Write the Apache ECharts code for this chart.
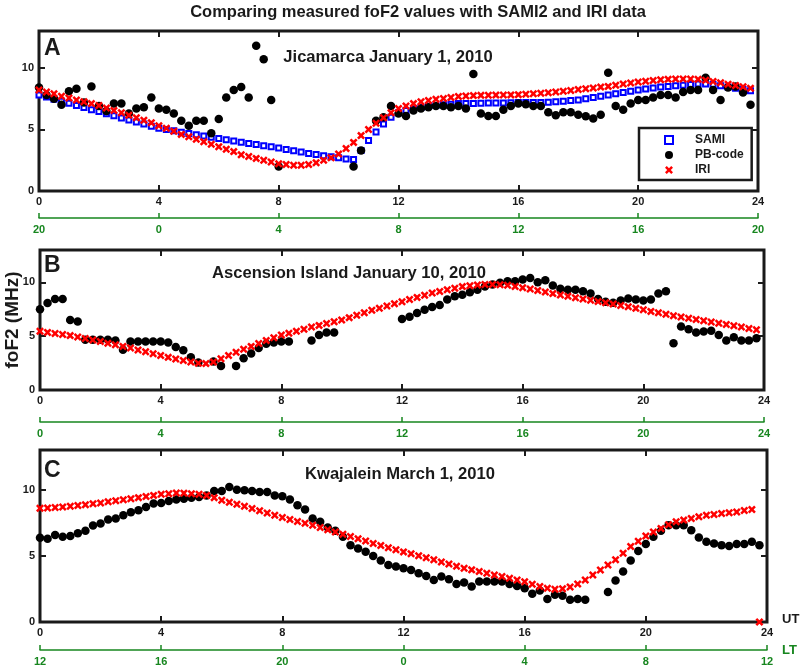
<!DOCTYPE html>
<html>
<head>
<meta charset="utf-8">
<script src="https://cdn.jsdelivr.net/npm/echarts@6/dist/echarts.min.js"></script>
<style>
  html, body { margin: 0; padding: 0; background: #fff; }
  #chart { width: 803px; height: 671px; }
</style>
</head>
<body>
<div id="chart"></div>
<script>
// time step of every series (hours UT), values start at 0 UT
const STEP = 0.25

const ltLabelsA = ['20', '0', '4', '8', '12', '16', '20']
const ltLabelsB = ['0', '4', '8', '12', '16', '20', '24']
const ltLabelsC = ['12', '16', '20', '0', '4', '8', '12']

// A - Jicamarca January 1, 2010
const samiA = [
  7.8, 7.63, 7.46, 7.29, 7.12, 6.95, 6.78, 6.61, 6.45, 6.28, 6.11, 5.94,
  5.77, 5.6, 5.44, 5.27, 5.1, 5.0, 4.9, 4.78, 4.68, 4.58, 4.47, 4.36,
  4.26, 4.16, 4.06, 3.96, 3.86, 3.77, 3.68, 3.59, 3.5, 3.38, 3.27, 3.16,
  3.05, 2.96, 2.87, 2.78, 2.7, 2.6, 2.55, 3.3, 4.1, 4.8, 5.45, 6.0,
  6.35, 6.55, 6.68, 6.78, 6.88, 6.95, 7.0, 7.05, 7.1, 7.1, 7.1, 7.12,
  7.15, 7.15, 7.15, 7.17, 7.2, 7.2, 7.2, 7.2, 7.22, 7.25, 7.3, 7.35,
  7.4, 7.5, 7.6, 7.7, 7.8, 7.9, 8.0, 8.1, 8.2, 8.28, 8.36, 8.44,
  8.5, 8.55, 8.6, 8.65, 8.7, 8.7, 8.65, 8.55, 8.45, 8.35, 8.25, 8.15
]
const pbA = [
  8.4, 7.8, 7.5, 7.0, 8.1, 8.3, 7.2, 8.5, 6.9, 6.5, 7.1, 7.1,
  6.3, 6.7, 6.8, 7.6, 6.7, 6.6, 6.3, 5.7, 5.3, 5.7, 5.7, 4.7,
  5.85, 7.6, 8.2, 8.45, 7.6, 11.8, 10.7, 7.4, 2.0, null, null, null,
  null, null, null, null, null, null, 2.0, 3.3, null, 5.7, 6.0, 6.9,
  6.3, 6.1, 6.55, 6.7, 6.8, 6.9, 6.9, 6.8, 6.9, 6.7, 9.5, 6.3,
  6.1, 6.1, 6.6, 6.9, 7.1, 7.05, 6.9, 6.9, 6.4, 6.15, 6.4, 6.4,
  6.2, 6.07, 5.9, 6.2, 9.6, 6.9, 6.6, 7.1, 7.4, 7.4, 7.6, 7.8,
  7.8, 7.6, 8.05, 8.2, 8.2, 9.2, 8.2, 7.4, 8.4, 8.5, 8.0, 7.0
]
const iriA = [
  8.2, 8.05, 7.9, 7.7, 7.55, 7.4, 7.25, 7.1, 6.95, 6.75, 6.55, 6.35,
  6.15, 5.95, 5.75, 5.55, 5.3, 5.1, 4.85, 4.6, 4.4, 4.2, 4.0, 3.8,
  3.6, 3.4, 3.2, 2.95, 2.8, 2.65, 2.5, 2.35, 2.22, 2.15, 2.1, 2.1,
  2.15, 2.3, 2.5, 2.7, 3.0, 3.45, 3.95, 4.5, 5.0, 5.5, 5.95, 6.35,
  6.7, 6.9, 7.1, 7.25, 7.35, 7.45, 7.52, 7.6, 7.68, 7.72, 7.75, 7.77,
  7.78, 7.79, 7.8, 7.81, 7.83, 7.86, 7.9, 7.94, 7.98, 8.04, 8.1, 8.17,
  8.24, 8.3, 8.37, 8.44, 8.5, 8.6, 8.7, 8.78, 8.86, 8.92, 8.98, 9.03,
  9.07, 9.1, 9.1, 9.1, 9.07, 9.0, 8.9, 8.8, 8.68, 8.58, 8.47, 8.35
]

// B - Ascension Island January 10, 2010
const pbB = [
  7.5, 8.07, 8.45, 8.45, 6.5, 6.37, 4.66, 4.66, 4.66, 4.66, 4.6, 3.73,
  4.5, 4.5, 4.5, 4.5, 4.5, 4.4, 4.0, 3.7, 3.04, 2.55, null, 2.64,
  2.24, null, 2.24, 2.95, 3.4, 3.9, 4.3, 4.4, 4.5, 4.5, null, null,
  4.6, 5.1, 5.34, 5.34, null, null, null, null, null, null, null, null,
  6.6, 6.8, 7.14, 7.45, 7.7, 7.9, 8.4, 8.7, 8.85, 9.07, 9.3, 9.6,
  9.8, 9.95, 10.1, 10.1, 10.25, 10.4, 10.0, 10.2, 9.7, 9.4, 9.3, 9.3,
  9.16, 8.95, 8.45, 8.2, 8.1, 8.3, 8.5, 8.4, 8.3, 8.4, 8.95, 9.16,
  4.35, 5.9, 5.65, 5.34, 5.43, 5.5, 5.1, 4.6, 4.9, 4.6, 4.6, 4.8
]
const iriB = [
  5.45, 5.35, 5.25, 5.15, 5.05, 4.92, 4.78, 4.65, 4.5, 4.35, 4.2, 4.05,
  3.9, 3.72, 3.55, 3.37, 3.2, 3.03, 2.88, 2.73, 2.6, 2.48, 2.45, 2.6,
  2.9, 3.2, 3.5, 3.78, 4.05, 4.32, 4.6, 4.86, 5.1, 5.28, 5.45, 5.65,
  5.84, 6.0, 6.17, 6.33, 6.5, 6.72, 6.95, 7.17, 7.4, 7.6, 7.8, 8.0,
  8.2, 8.4, 8.6, 8.8, 9.0, 9.15, 9.3, 9.45, 9.6, 9.68, 9.75, 9.8,
  9.8, 9.78, 9.72, 9.62, 9.5, 9.37, 9.23, 9.1, 8.95, 8.82, 8.7, 8.57,
  8.45, 8.33, 8.22, 8.1, 7.98, 7.85, 7.72, 7.58, 7.45, 7.3, 7.17, 7.03,
  6.9, 6.78, 6.66, 6.55, 6.43, 6.31, 6.2, 6.08, 5.96, 5.84, 5.72, 5.6
]

// C - Kwajalein March 1, 2010
const pbC = [
  6.37, 6.3, 6.57, 6.44, 6.5, 6.7, 6.9, 7.3, 7.44, 7.74, 7.82, 8.07,
  8.3, 8.45, 8.7, 8.95, 9.0, 9.15, 9.25, 9.32, 9.4, 9.45, 9.57, 9.9,
  9.9, 10.2, 10.0, 9.95, 9.9, 9.82, 9.82, 9.57, 9.5, 9.25, 8.82, 8.5,
  7.82, 7.57, 7.14, 6.9, 6.44, 5.81, 5.56, 5.31, 4.99, 4.64, 4.3, 4.19,
  4.06, 3.93, 3.68, 3.48, 3.18, 3.43, 3.23, 2.88, 2.98, 2.68, 3.06, 3.06,
  3.06, 3.06, 2.88, 2.73, 2.56, 2.13, 2.38, 1.73, 2.06, 1.98, 1.68, 1.73,
  1.68, null, null, 2.26, 3.13, 3.81, 4.64, 5.36, 5.89, 6.44, 6.89, 7.32,
  7.32, 7.32, 6.94, 6.39, 6.06, 5.94, 5.81, 5.74, 5.89, 5.89, 6.06, 5.81
]
const iriC = [
  8.6, 8.62, 8.65, 8.7, 8.75, 8.8, 8.87, 8.93, 9.0, 9.08, 9.16, 9.24,
  9.32, 9.4, 9.48, 9.57, 9.65, 9.7, 9.75, 9.74, 9.7, 9.65, 9.57, 9.4,
  9.2, 9.05, 8.9, 8.75, 8.57, 8.4, 8.23, 8.07, 7.9, 7.75, 7.6, 7.46,
  7.32, 7.15, 6.98, 6.8, 6.64, 6.46, 6.29, 6.12, 5.94, 5.78, 5.62, 5.46,
  5.3, 5.15, 5.0, 4.85, 4.7, 4.54, 4.38, 4.22, 4.06, 3.94, 3.82, 3.69,
  3.56, 3.44, 3.31, 3.18, 3.05, 2.85, 2.68, 2.55, 2.48, 2.52, 2.65, 2.88,
  3.18, 3.55, 3.93, 4.3, 4.7, 5.2, 5.7, 6.1, 6.5, 6.8, 7.07, 7.35,
  7.57, 7.7, 7.82, 7.95, 8.07, 8.13, 8.2, 8.26, 8.32, 8.42, 8.5, 0
]

const FONT = 'Arial, "Liberation Sans", sans-serif'
const INK = '#1a1a1a'
const GREEN = '#17861f'
const X_PATH = 'path://M0,2.2 L2.2,0 L5,2.8 L7.8,0 L10,2.2 L7.2,5 L10,7.8 L7.8,10 L5,7.2 L2.2,10 L0,7.8 L2.8,5 Z'

// plot boxes: [left, top, right, height], green LT axis offset
const panels = [
  { box: [39, 31, 45, 160], ltOffset: 27, lt: ltLabelsA },
  { box: [40, 250, 39, 140], ltOffset: 32, lt: ltLabelsB },
  { box: [40, 450, 36, 172], ltOffset: 28, lt: ltLabelsC }
]

const toPoints = vals => vals
  .map((v, i) => (v == null ? null : [i * STEP, v]))
  .filter(Boolean)

const tick = () => ({ show: true, inside: true, length: 6, lineStyle: { color: INK, width: 2 } })
const noLine = () => ({ show: false, onZero: false })
const labelStyle = { color: INK, fontFamily: FONT, fontWeight: 'bold', fontSize: 11 }

const grid = []
const xAxis = []
const yAxis = []
panels.forEach((p, g) => {
  const [left, top, right, height] = p.box
  grid.push({
    left, top, right, height,
    show: true, borderColor: INK, borderWidth: 3, backgroundColor: 'transparent',
    containLabel: false, outerBoundsMode: 'none'
  })
  const base = { gridIndex: g, type: 'value', min: 0, max: 24, interval: 4, splitLine: { show: false } }
  // UT axis
  xAxis.push(Object.assign({}, base, {
    position: 'bottom',
    axisLine: noLine(),
    axisTick: tick(),
    axisLabel: Object.assign({ margin: 5 }, labelStyle)
  }))
  // top ticks
  xAxis.push(Object.assign({}, base, {
    position: 'top',
    axisLine: noLine(),
    axisTick: tick(),
    axisLabel: { show: false }
  }))
  // local time axis
  xAxis.push(Object.assign({}, base, {
    position: 'bottom',
    offset: p.ltOffset,
    axisLine: { show: true, onZero: false, lineStyle: { color: GREEN, width: 1.5 } },
    axisTick: { show: true, inside: true, length: 5, lineStyle: { color: GREEN, width: 1.5 } },
    axisLabel: Object.assign({}, labelStyle, {
      color: GREEN, margin: 6,
      formatter: v => p.lt[Math.round(v / 4)]
    })
  }))
  const ybase = { gridIndex: g, type: 'value', min: 0, max: 13, interval: 5, splitLine: { show: false } }
  yAxis.push(Object.assign({}, ybase, {
    position: 'left',
    axisLine: noLine(),
    axisTick: tick(),
    axisLabel: Object.assign({ margin: 5, showMaxLabel: false }, labelStyle),
    name: g === 1 ? 'foF2 (MHz)' : '',
    nameLocation: 'middle',
    nameRotate: 90,
    nameGap: 18,
    nameMoveOverlap: false,
    nameTextStyle: { color: INK, fontFamily: FONT, fontWeight: 'bold', fontSize: 19 }
  }))
  yAxis.push(Object.assign({}, ybase, {
    position: 'right',
    axisLine: noLine(),
    axisTick: tick(),
    axisLabel: { show: false }
  }))
})

const samiSeries = (g, data) => ({
  name: 'SAMI', type: 'scatter', xAxisIndex: g * 3, yAxisIndex: g * 2,
  data: toPoints(data), symbol: 'rect', symbolSize: 5,
  itemStyle: { color: '#ffffff', borderColor: '#0000ff', borderWidth: 2, opacity: 1 },
  emphasis: { disabled: true }, silent: true, z: 2
})
const pbSeries = (g, data) => ({
  name: 'PB-code', type: 'scatter', xAxisIndex: g * 3, yAxisIndex: g * 2,
  data: toPoints(data), symbol: 'circle', symbolSize: 8.5,
  itemStyle: { color: '#000000', opacity: 1 },
  emphasis: { disabled: true }, silent: true, z: 3
})
const iriSeries = (g, data) => ({
  name: 'IRI', type: 'scatter', xAxisIndex: g * 3, yAxisIndex: g * 2,
  data: toPoints(data), symbol: X_PATH, symbolSize: 8,
  itemStyle: { color: '#ff0000', opacity: 1 },
  emphasis: { disabled: true }, silent: true, z: 4
})

const text = (str, x, y, size, color, align) => ({
  type: 'text', x, y, silent: true,
  style: {
    text: str, fill: color || INK, textAlign: align || 'center', textVerticalAlign: 'middle',
    font: `bold ${size}px ${FONT}`
  }
})

const option = {
  animation: false,
  backgroundColor: '#ffffff',
  grid, xAxis, yAxis,
  legend: {
    data: ['SAMI', 'PB-code', 'IRI'],
    orient: 'vertical',
    left: 639, top: 128,
    padding: [6, 8, 4, 25],
    itemWidth: 8, itemHeight: 8, itemGap: 3,
    borderColor: INK, borderWidth: 2.5, backgroundColor: '#ffffff',
    selectedMode: false,
    textStyle: { color: INK, fontFamily: FONT, fontWeight: 'bold', fontSize: 12, padding: [0, 0, 0, 17] }
  },
  graphic: [
    text('Comparing measured foF2 values with SAMI2 and IRI data', 418, 12, 16.5),
    text('A', 44, 49, 23, INK, 'left'),
    text('B', 44, 266, 23, INK, 'left'),
    text('C', 44, 471, 23, INK, 'left'),
    text('Jicamarca January 1, 2010', 388, 57, 16.6),
    text('Ascension Island January 10, 2010', 349, 273, 16.6),
    text('Kwajalein March 1, 2010', 400, 474, 16.6),
    text('UT', 782, 619, 13, INK, 'left'),
    text('LT', 782, 650, 13, GREEN, 'left')
  ],
  series: [
    samiSeries(0, samiA), pbSeries(0, pbA), iriSeries(0, iriA),
    pbSeries(1, pbB), iriSeries(1, iriB),
    pbSeries(2, pbC), iriSeries(2, iriC)
  ]
}

const myChart = echarts.init(document.getElementById('chart'), null, { renderer: 'canvas' })
myChart.setOption(option)
window.addEventListener('resize', () => myChart.resize())
</script>
</body>
</html>
